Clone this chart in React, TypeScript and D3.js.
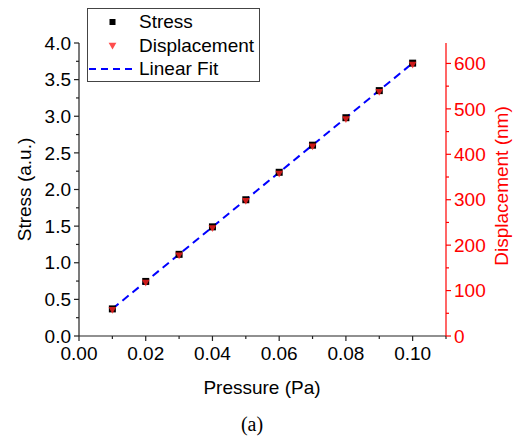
import React from "react";
import * as d3 from "d3";

const pressure = [0.01, 0.02, 0.03, 0.04, 0.05, 0.06, 0.07, 0.08, 0.09, 0.1];
const stress = [0.37, 0.745, 1.115, 1.49, 1.86, 2.235, 2.605, 2.98, 3.35, 3.725];
const displacement = [60, 120, 180, 240, 300, 360, 420, 480, 540, 600];
const fitStart = [0.01, 0.37];
const fitEnd = [0.1, 3.725];
const xTicks = [0, 0.02, 0.04, 0.06, 0.08, 0.1];
const yTicks = [0, 0.5, 1, 1.5, 2, 2.5, 3, 3.5, 4];
const y2Ticks = [0, 100, 200, 300, 400, 500, 600];

const W = 520, H = 441;
const L = 79, R = 446, T = 43, B = 336;
const FONT = "'Liberation Sans', Arial, sans-serif";
const FS = 19;

export default function App() {
  const x = d3.scaleLinear().domain([0, 0.11]).range([L, R]);
  const y = d3.scaleLinear().domain([0, 4]).range([B, T]);
  const y2 = d3.scaleLinear().domain([0, 645]).range([B, T]);
  const xMinor = d3.range(0, 0.1101, 0.01);
  const yMinor = d3.range(0, 4.001, 0.25);
  const y2Minor = d3.range(0, 645, 50);
  const line = d3.line<number[]>().x(d => x(d[0])).y(d => y(d[1]));
  const tri = d3.symbol().type(d3.symbolTriangle).size(26)();
  return (
    <svg width={W} height={H} style={{ position: "absolute", left: 0, top: 0 }} fontFamily={FONT}>
      <rect width={W} height={H} fill="#fff" />
      {/* fit line */}
      <path d={line([fitStart, fitEnd]) || ""} stroke="#0000ff" strokeWidth={2} strokeDasharray="8,5" fill="none" />
      {/* markers */}
      {pressure.map((p, i) => (
        <rect key={"s" + i} x={x(p) - 3.5} y={y(stress[i]) - 3.5} width={7} height={7} fill="#000" />
      ))}
      {pressure.map((p, i) => (
        <path key={"d" + i} d={tri} transform={`translate(${x(p)},${y2(displacement[i]) + 0.5}) rotate(180)`} fill="#ff2020" fillOpacity={0.8} />
      ))}
      {/* left axis */}
      <line x1={L} x2={L} y1={T} y2={B} stroke="#222" strokeWidth={1.2} />
      {yMinor.map((v, i) => (
        <line key={"ym" + i} x1={L - (i % 2 === 0 ? 5 : 3)} x2={L} y1={y(v)} y2={y(v)} stroke="#222" strokeWidth={1.2} />
      ))}
      {yTicks.map((v) => (
        <text key={"yt" + v} x={L - 8} y={y(v)} dy="0.35em" textAnchor="end" fontSize={FS}>{v.toFixed(1)}</text>
      ))}
      <text transform={`translate(31,${(T + B) / 2}) rotate(-90)`} textAnchor="middle" fontSize={FS}>Stress (a.u.)</text>
      {/* bottom axis */}
      <line x1={L} x2={R} y1={B} y2={B} stroke="#222" strokeWidth={1.2} />
      {xMinor.map((v, i) => (
        <line key={"xm" + i} x1={x(v)} x2={x(v)} y1={B} y2={B + (i % 2 === 0 ? 5 : 3)} stroke="#222" strokeWidth={1.2} />
      ))}
      {xTicks.map((v) => (
        <text key={"xt" + v} x={x(v)} y={B + 24} textAnchor="middle" fontSize={FS}>{v.toFixed(2)}</text>
      ))}
      <text x={262} y={394} textAnchor="middle" fontSize={FS}>Pressure (Pa)</text>
      {/* right axis */}
      <line x1={R} x2={R} y1={T} y2={B} stroke="#ff0000" strokeWidth={1.2} />
      {y2Minor.map((v, i) => (
        <line key={"y2m" + i} x1={R} x2={R + (i % 2 === 0 ? 5 : 3)} y1={y2(v)} y2={y2(v)} stroke="#ff0000" strokeWidth={1.2} />
      ))}
      {y2Ticks.map((v) => (
        <text key={"y2t" + v} x={R + 8} y={y2(v)} dy="0.35em" textAnchor="start" fontSize={FS} fill="#ff0000">{v}</text>
      ))}
      <text transform={`translate(508,186) rotate(-90)`} textAnchor="middle" fontSize={FS} fill="#ff0000">Displacement (nm)</text>
      {/* legend */}
      <rect x={87.5} y={8.5} width={172} height={73} fill="#fff" stroke="#444" strokeWidth={1} />
      <rect x={109.5} y={19} width={6} height={6} fill="#000" />
      <text x={139} y={28} fontSize={FS}>Stress</text>
      <path d={tri} transform={`translate(112.5,45) rotate(180)`} fill="#ff2020" fillOpacity={0.8} />
      <text x={139} y={52} fontSize={FS}>Displacement</text>
      <line x1={89} x2={134} y1={69} y2={69} stroke="#0000ff" strokeWidth={2} strokeDasharray="7,5" />
      <text x={139} y={75} fontSize={FS}>Linear Fit</text>
      <text x={252} y={431} textAnchor="middle" fontSize={20} fontFamily="'Liberation Serif', 'Times New Roman', serif">(a)</text>
    </svg>
  );
}
